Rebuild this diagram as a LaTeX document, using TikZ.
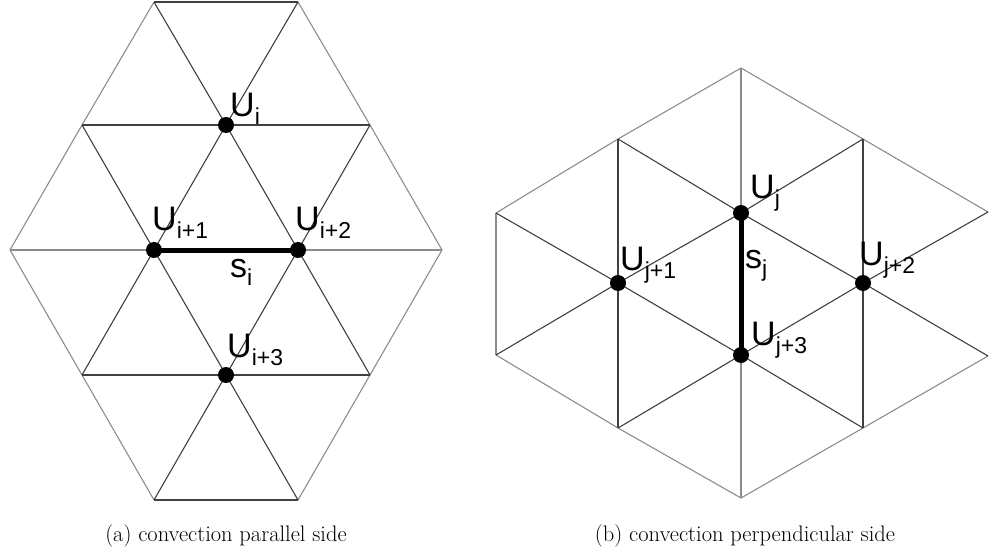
\documentclass[tikz,border=0pt]{standalone}
\usepackage{fontspec}
\newfontfamily\lab{Liberation Sans}
\begin{document}
\begin{tikzpicture}[x=1pt,y=-1pt,
  light/.style={draw=black!45,line width=1.1pt},
  dark/.style={draw=black!75,line width=1.1pt},
  sidebar/.style={draw=black,line width=5pt},
  dot/.style={circle,fill=black,inner sep=0pt,minimum size=16pt},
  lbl/.style={anchor=base west,inner sep=0pt,font=\lab},
  captxt/.style={anchor=base,inner sep=0pt,font=\fontsize{22.5}{26}\selectfont}]
\newcommand{\Lb}[2]{{\fontsize{34}{34}\selectfont #1}\raisebox{-8pt}{\fontsize{23}{23}\selectfont #2}}
\useasboundingbox (0,0) rectangle (992,556);
% ---------- left lattice ----------
\coordinate (a01) at (154,2);  \coordinate (a02) at (298,2);
\coordinate (a11) at (82,125); \coordinate (a12) at (226,125); \coordinate (a13) at (370,125);
\coordinate (a21) at (10,250); \coordinate (a22) at (154,250); \coordinate (a23) at (298,250); \coordinate (a24) at (442,250);
\coordinate (a31) at (82,375); \coordinate (a32) at (226,375); \coordinate (a33) at (370,375);
\coordinate (a41) at (154,500); \coordinate (a42) at (298,500);
\draw[light] (a01) -- (a11) -- (a21) -- (a31) -- (a41);
\draw[light] (a02) -- (a13) -- (a24) -- (a33) -- (a42);
\draw[light] (a21) -- (a22);
\draw[light] (a23) -- (a24);
\draw[dark] (a01) -- (a02);
\draw[dark] (a41) -- (a42);
\draw[dark] (a11) -- (a13);
\draw[dark] (a31) -- (a33);
\draw[dark] (a01) -- (a12) -- (a02);
\draw[dark] (a11) -- (a22) -- (a12) -- (a23) -- (a13);
\draw[dark] (a31) -- (a22) -- (a32) -- (a23) -- (a33);
\draw[dark] (a41) -- (a32) -- (a42);
% ---------- right lattice ----------
\coordinate (b0) at (741,68);
\coordinate (b11) at (618,139); \coordinate (b12) at (863,139);
\coordinate (b21) at (496,213); \coordinate (b22) at (741,213); \coordinate (b23) at (988,212);
\coordinate (b31) at (618,283); \coordinate (b32) at (863,283);
\coordinate (b41) at (496,355); \coordinate (b42) at (741,355); \coordinate (b43) at (988,356);
\coordinate (b51) at (618,428); \coordinate (b52) at (863,428);
\coordinate (b6) at (741,498);
\draw[light] (b21) -- (b11) -- (b0) -- (b12) -- (b23);
\draw[light] (b41) -- (b51) -- (b6) -- (b52) -- (b43);
\draw[light] (b21) -- (b41);
\draw[light] (b0) -- (b22);
\draw[light] (b42) -- (b6);
\draw[dark] (b11) -- (b31) -- (b51);
\draw[dark] (b12) -- (b32) -- (b52);
\draw[dark] (b11) -- (b22) -- (b12);
\draw[dark] (b21) -- (b31) -- (b22) -- (b32) -- (b23);
\draw[dark] (b41) -- (b31) -- (b42) -- (b32) -- (b43);
\draw[dark] (b51) -- (b42) -- (b52);
% ---------- dots and sides ----------
\node[dot] (ui)  at (a12) {};
\node[dot] (ui1) at (a22) {};
\node[dot] (ui2) at (a23) {};
\node[dot] (ui3) at (a32) {};
\draw[sidebar] (ui1.center) -- (ui2.center);
\node[dot] (uj)  at (b22) {};
\node[dot] (uj1) at (b31) {};
\node[dot] (uj2) at (b32) {};
\node[dot] (uj3) at (b42) {};
\draw[sidebar] (uj.center) -- (uj3.center);
% ---------- labels ----------
\node[lbl] (lui)  at (230,117) {\Lb{U}{i}};
\node[lbl] (lui1) at (152,230) {\Lb{U}{i+1}};
\node[lbl] (lui2) at (295,230) {\Lb{U}{i+2}};
\node[lbl] (lui3) at (227,357) {\Lb{U}{i+3}};
\node[lbl] (lsi)  at (230,277) {\Lb{s}{i}};
\node[lbl] (luj)  at (750,198) {\Lb{U}{j}};
\node[lbl] (luj1) at (620,270) {\Lb{U}{j+1}};
\node[lbl] (luj2) at (859,265) {\Lb{U}{j+2}};
\node[lbl] (luj3) at (751,345) {\Lb{U}{j+3}};
\node[lbl] (lsj)  at (745,268) {\Lb{s}{j}};
% ---------- captions ----------
\node[captxt] (capa) at (226,541) {(a) convection parallel side};
\node[captxt] (capb) at (745,541) {(b) convection perpendicular side};
\end{tikzpicture}
\end{document}
